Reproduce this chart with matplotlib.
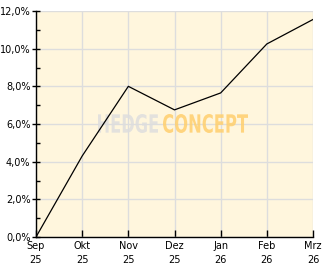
import matplotlib
matplotlib.use('Agg')
import matplotlib.pyplot as plt
import matplotlib.transforms as mtransforms
from matplotlib.ticker import MultipleLocator, FuncFormatter
from matplotlib.textpath import TextPath
from matplotlib.patches import PathPatch
from matplotlib.font_manager import FontProperties

# monthly performance (cumulative, %)
months = ['Sep\n25', 'Okt\n25', 'Nov\n25', 'Dez\n25', 'Jan\n26', 'Feb\n26', 'Mrz\n26']
perf = [0.0, 4.3, 8.0, 6.75, 7.65, 10.25, 11.55]

plt.rcParams['font.family'] = 'DejaVu Sans'
plt.rcParams['font.size'] = 7

fig = plt.figure(figsize=(3.32, 2.69), dpi=100, facecolor='white')
ax = fig.add_axes([36/332, 32/269, 277/332, 226/269])
ax.set_facecolor('#FFF6DD')

x = list(range(len(months)))
ax.plot(x, perf, color='black', lw=0.9, zorder=3)

ax.set_xlim(0, len(months) - 1)
ax.set_ylim(0, 12)
ax.set_xticks(x)
ax.set_xticklabels(months, linespacing=1.5)
ax.yaxis.set_major_locator(MultipleLocator(2))
ax.yaxis.set_minor_locator(MultipleLocator(1))
ax.yaxis.set_major_formatter(FuncFormatter(lambda v, p: f'{v:.1f}%'.replace('.', ',')))

ax.grid(True, which='major', color='#DDDDDD', lw=1, zorder=1)
ax.set_axisbelow(True)
for s in ['top', 'right']:
    ax.spines[s].set_visible(False)
for s in ['left', 'bottom']:
    ax.spines[s].set_color('black')
    ax.spines[s].set_linewidth(1)

ax.tick_params(axis='y', which='major', direction='inout', length=6, width=1, pad=1)
ax.tick_params(axis='y', which='minor', direction='in', length=3, width=1)
ax.tick_params(axis='x', which='major', direction='in', length=5, width=1, pad=3)

# watermark, squeezed into a box given in pixels (x0, y0 from bottom, w, h)
fp = FontProperties(family='DejaVu Sans', weight='bold')
def stamp(txt, box, col):
    p = TextPath((0, 0), txt, size=1, prop=fp)
    e = p.get_extents()
    x0, y0, w, h = box
    tr = mtransforms.Affine2D().translate(-e.x0, -e.y0).scale(w / e.width, h / e.height).translate(x0, y0)
    ax.add_patch(PathPatch(p, transform=tr, facecolor=col, edgecolor='none',
                           alpha=0.85, zorder=2, clip_on=False))

stamp('HEDGE', (98, 136, 60, 19), '#DEDEDE')
stamp('CONCEPT', (163, 136, 85, 19), '#FFCF6E')

fig.savefig('out.png', dpi=100, facecolor='white')
